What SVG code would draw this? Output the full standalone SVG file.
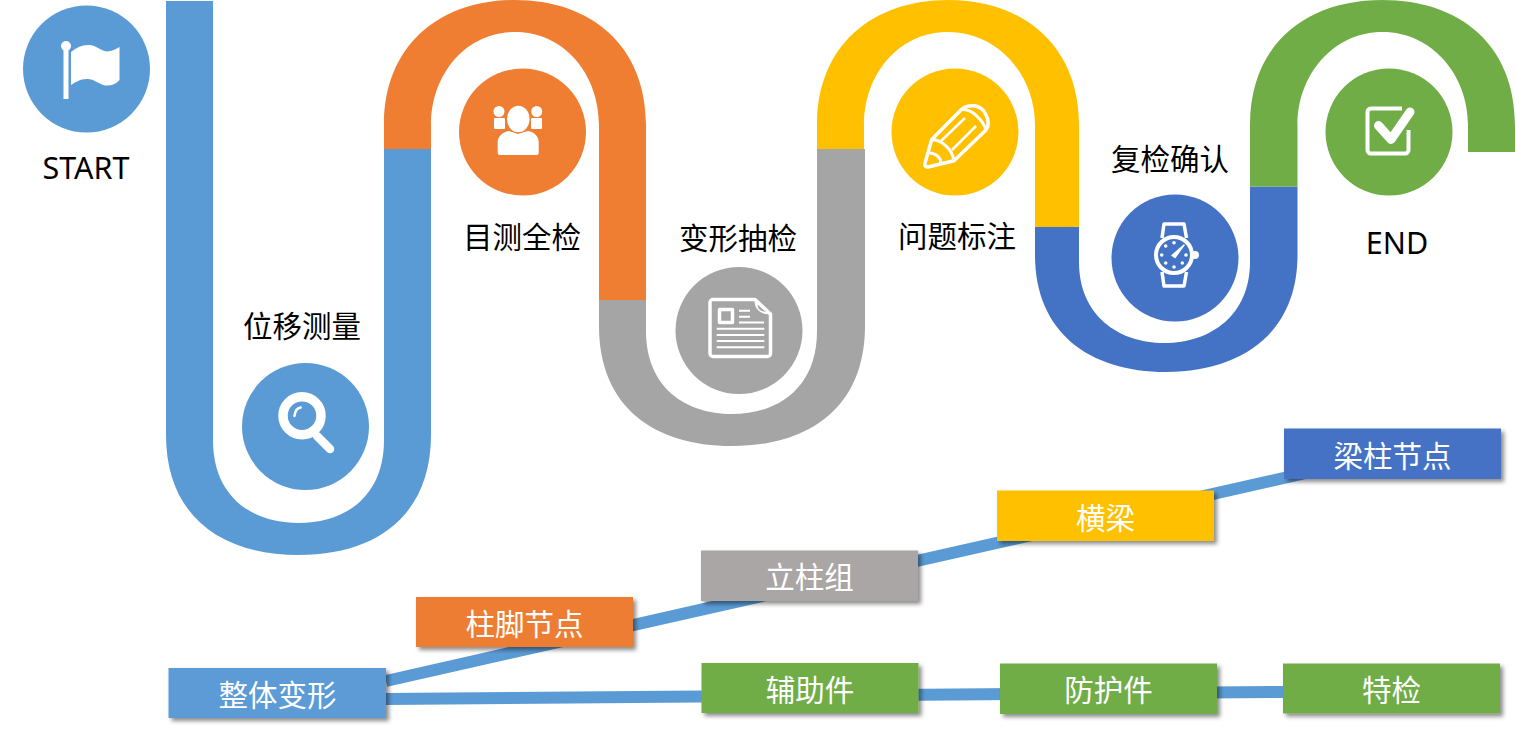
<svg xmlns="http://www.w3.org/2000/svg" width="1516" height="731" viewBox="0 0 1516 731">
<defs>
<style>
.lab{font-family:"Noto Sans CJK SC","Noto Sans",sans-serif;font-size:29.5px;text-anchor:middle;fill:#000}
.box{font-family:"Noto Sans CJK SC","Noto Sans",sans-serif;font-size:29.5px;text-anchor:middle;fill:#fff}
.lat{font-family:"Noto Sans","Noto Sans CJK SC",sans-serif;font-size:30.5px;text-anchor:middle;fill:#000}
.ln{stroke:#fff;fill:none;stroke-linejoin:round}
.wh{fill:#fff}
.sh{filter:url(#shadow)}
.conn{stroke:#5B9BD5;stroke-width:12;fill:none}
</style>
<filter id="shadow" x="-10%" y="-20%" width="125%" height="150%">
<feDropShadow dx="3" dy="3" stdDeviation="2" flood-color="#000" flood-opacity="0.45"/>
</filter>
</defs>
<rect width="1516" height="731" fill="#fff"/>
<g id="ribbon">
<path fill="#5B9BD5" d="M166 1H213V440C213 497 252 523 298.5 523C345 523 384 497 384 440V149H431V435C431 515 377 555 298.5 555C220 555 166 515 166 435Z"/>
<path fill="#EF7E32" d="M384 149V125C384 45 440 0 515 0C590 0 646 45 646 125V300H599V125C599 75 565 32 515 32C465 32 431 75 431 125V149Z"/>
<path fill="#A5A5A5" d="M599 300V326C599 406 653 446 732 446C811 446 865 406 865 326V149H817V331C817 388 778 414 732 414C686 414 646 388 646 331V300Z"/>
<path fill="#FFC000" d="M817 149V125C817 45 873 0 948 0C1023 0 1079 45 1079 125V227H1035V125C1035 75 998 32 948 32C898 32 864 75 864 125V149Z"/>
<path fill="#4472C4" d="M1035 227V255C1035 332 1089 372 1166 372C1243 372 1297.500 332 1297.500 255V186.500H1250V262C1250 315 1211 343 1164.500 343C1118 343 1079 315 1079 262V227Z"/>
<path fill="#70AD47" d="M1250 186.500V125C1250 45 1305 0 1382.500 0C1460 0 1515 45 1515 125V152H1468V125C1468 75 1432 32 1382.500 32C1333 32 1297.500 75 1297.500 125V186.500Z"/>
</g>
<g id="connectors">
<path class="conn" d="M386 681L1310 472"/>
<path class="conn" d="M386 699L1283 692"/>
</g>
<g id="start">
<circle cx="86.500" cy="69" r="63.500" fill="#5B9BD5"/>
<rect class="wh" x="63.500" y="50" width="5" height="49"/>
<circle class="wh" cx="66" cy="46" r="5"/>
<path class="wh" d="M71 52C76 48 82 44.500 90 45C97 45.500 100 51 107 51.500C112 51.500 116 49 119.500 47V80C116 84 111 86 105 85.500C98 84 95 79 87 79C80 79 76 82 71 85Z"/>
<text class="lat" x="86" y="179">START</text>
</g>
<g id="measure">
<circle cx="305.500" cy="426.500" r="63.500" fill="#5B9BD5"/>
<circle class="ln" cx="302" cy="415.700" r="19" stroke-width="9.500"/>
<path class="ln" d="M317 436L330 449" stroke-width="8.500" stroke-linecap="round"/>
<path class="ln" d="M294.500 416C295 411 297 408 300.700 407.500" stroke-width="2.500" stroke-linecap="round"/>
<text class="lab" x="302" y="337">位移测量</text>
</g>
<g id="inspect">
<circle cx="522.500" cy="132" r="63.500" fill="#EF7E32"/>
<circle class="wh" cx="499" cy="111.500" r="5.500"/>
<circle class="wh" cx="536.700" cy="111.500" r="5.500"/>
<rect class="wh" x="494" y="118" width="11" height="11" rx="1"/>
<rect class="wh" x="531" y="118" width="11" height="11" rx="1"/>
<ellipse class="wh" cx="518.300" cy="119" rx="12" ry="14" stroke="#EF7E32" stroke-width="1.500"/>
<path class="wh" d="M497.700 142C497.700 136 503 132 509 131L518 134L528 131C534 132 538.700 136 538.700 142V153A2 2 0 0 1 536.700 155H499.700A2 2 0 0 1 497.700 153Z"/>
<text class="lab" x="522" y="248">目测全检</text>
</g>
<g id="sampling">
<circle cx="739" cy="330.500" r="63.500" fill="#A5A5A5"/>
<path class="ln" d="M755 299.500H713A3 3 0 0 0 710 302.500V353.500A3 3 0 0 0 713 356.500H767.500A3 3 0 0 0 770.500 353.500V314Z" stroke-width="3.500"/>
<path class="wh" d="M755 300L771 314C761 314 755 310 755 300Z" stroke="#fff" stroke-width="1"/>
<path d="M757.500 304.500L766 312C761 311.500 758 309.500 757.500 304.500Z" fill="#A5A5A5"/>
<rect class="ln" x="719.500" y="309.500" width="13" height="13" stroke-width="3.500"/>
<path class="ln" d="M739 310.700H750M739 316.700H750M739 322.500H764M716.700 328.700H764.300M716.700 335H764.300M716.700 341H764.300M716.700 347.300H764.300" stroke-width="2"/>
<text class="lab" x="738" y="249">变形抽检</text>
</g>
<g id="mark">
<circle cx="955" cy="132" r="63.500" fill="#FFC000"/>
<path class="ln" d="M931.700 139.500L961.700 109.300C968 104 980 104 985 113C989 120 989 126 986 130L954 160.700L928 167C925 167.500 924.500 165 925 163Z" stroke-width="3.500"/>
<path class="ln" d="M931.700 139.500C941 140 952 148 954 160.700M929.500 153C936 153 941 158 941 163.500M961.700 109.300C972 109 983 120 986 130" stroke-width="3"/>
<path class="ln" d="M941 141L965 118M952 150L976 126" stroke-width="2.500"/>
<text class="lab" x="957" y="247">问题标注</text>
</g>
<g id="recheck">
<circle cx="1175" cy="258" r="63.500" fill="#4472C4"/>
<circle class="ln" cx="1174" cy="255" r="18" stroke-width="4"/>
<circle class="wh" cx="1195" cy="255" r="4"/>
<path class="ln" d="M1162 238L1164 224H1184L1186.500 238M1162 272L1164 286H1184L1186.500 272" stroke-width="3.500"/>
<g class="wh">
<circle cx="1174" cy="242.700" r="1.800"/><circle cx="1174" cy="267" r="1.800"/><circle cx="1161.700" cy="255" r="1.800"/><circle cx="1186" cy="255" r="1.800"/>
<circle cx="1165.700" cy="246" r="1.800"/><circle cx="1182.300" cy="263" r="1.800"/><circle cx="1165.700" cy="263" r="1.800"/>
</g>
<path class="wh" d="M1172 255.500L1184 245L1175 257.500Z" stroke="#fff" stroke-width="1.500" stroke-linejoin="round"/>
<text class="lab" x="1170" y="170">复检确认</text>
</g>
<g id="end">
<circle cx="1389" cy="132" r="63.500" fill="#70AD47"/>
<path class="ln" d="M1402 108.500H1371A3.500 3.500 0 0 0 1367.500 112V150A3.500 3.500 0 0 0 1371 153.500H1405A3.500 3.500 0 0 0 1408.500 150V130" stroke-width="4"/>
<path class="ln" d="M1378.500 125.500L1391 139.500L1410 112" stroke-width="9" stroke-linecap="round" stroke-linejoin="miter"/>
<text class="lat" x="1397" y="254">END</text>
</g>
<g id="n-overall"><rect class="sh" x="168.500" y="668" width="217.500" height="50" fill="#5B9BD5"/><text class="box" x="277.500" y="706">整体变形</text></g>
<g id="n-foot"><rect class="sh" x="416" y="597" width="217" height="50" fill="#ED7D31"/><text class="box" x="524.500" y="635">柱脚节点</text></g>
<g id="n-column"><rect class="sh" x="701" y="550.500" width="217" height="50.500" fill="#AAA6A5"/><text class="box" x="809.500" y="588">立柱组</text></g>
<g id="n-beam"><rect class="sh" x="997" y="490.500" width="217" height="50.500" fill="#FFC000"/><text class="box" x="1105.500" y="529">横梁</text></g>
<g id="n-joint"><rect class="sh" x="1284" y="428.500" width="217" height="50.500" fill="#4472C4"/><text class="box" x="1392.500" y="467">梁柱节点</text></g>
<g id="n-aux"><rect class="sh" x="701.500" y="663" width="217" height="50" fill="#70AD47"/><text class="box" x="810" y="701">辅助件</text></g>
<g id="n-guard"><rect class="sh" x="1000" y="663.500" width="217" height="50.500" fill="#70AD47"/><text class="box" x="1108.500" y="701">防护件</text></g>
<g id="n-special"><rect class="sh" x="1283" y="663.500" width="217" height="50" fill="#70AD47"/><text class="box" x="1391.500" y="701">特检</text></g>
</svg>
